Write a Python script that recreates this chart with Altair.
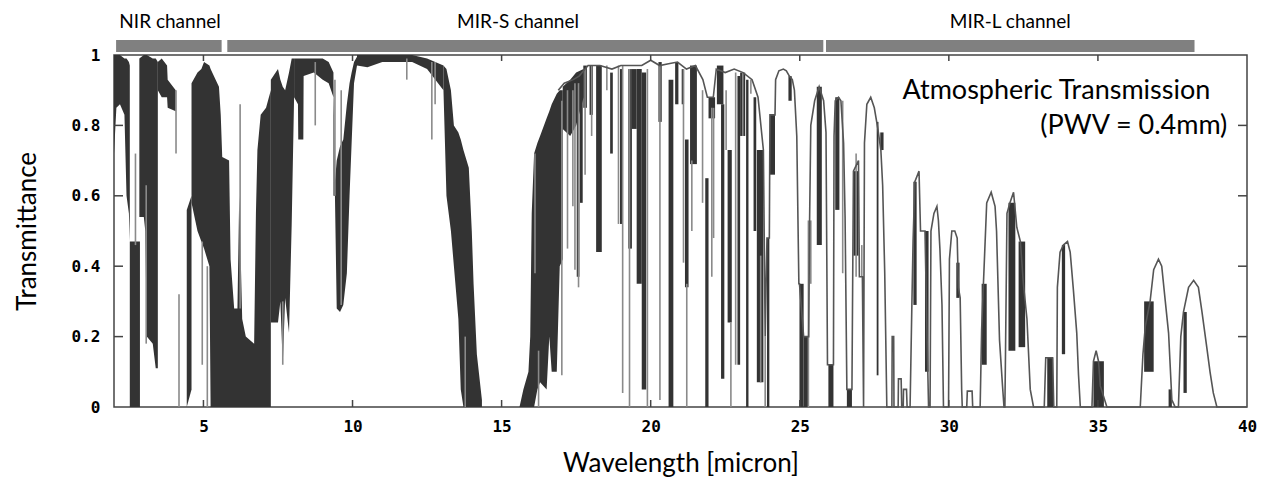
import altair as alt
import pandas as pd

# ---------------- data ----------------
# dense (dark) absorption regions: one list per segment
seg_x = [
    [2.0, 2.08, 2.2, 2.35, 2.42, 2.5, 2.53],
    [2.53, 2.87],
    [2.85, 3.0, 3.05, 3.1, 3.3, 3.4, 3.47],
    [3.47, 3.6, 3.78, 3.8, 4.07],
    [4.44, 4.6],
    [4.6, 4.8, 4.93, 5.02, 5.2, 5.24, 5.35, 5.52, 5.58, 5.63, 5.86, 5.91, 6.03, 6.14, 6.2, 6.3, 6.42, 6.7, 6.76, 6.81, 6.92, 7.1, 7.26],
    [7.26, 7.5, 7.58, 7.66, 7.74, 7.87, 7.96, 8.04],
    [8.04, 8.17, 8.18, 8.35, 8.36, 8.7, 9.0, 9.2, 9.36],
    [9.36, 9.41, 9.47, 9.58, 9.69, 9.81, 9.9, 9.97, 10.05, 10.15],
    [10.15, 10.5, 11.0, 12.0, 12.5, 13.05],
    [13.05, 13.15, 13.3, 13.4, 13.55, 13.63, 13.72, 13.9, 14.0, 14.06, 14.17, 14.34],
    [15.6, 15.73, 15.9, 15.96, 16.01, 16.09, 16.2, 16.29, 16.51, 16.6, 16.68, 16.85, 16.95, 17.05],
    [17.05, 17.3, 17.5, 17.75],
]
seg_lo = [
    [0.72, 0.85, 0.86, 0.83, 0.6, 0.55, 0.47],
    [0.0, 0.0],
    [0.54, 0.54, 0.5, 0.2, 0.18, 0.11, 0.11],
    [0.9, 0.88, 0.88, 0.85, 0.84],
    [0.0, 0.05],
    [0.58, 0.5, 0.47, 0.45, 0.4, 0.0, 0.0, 0.0, 0.0, 0.0, 0.0, 0.0, 0.0, 0.0, 0.0, 0.0, 0.0, 0.0, 0.0, 0.0, 0.0, 0.0, 0.0],
    [0.24, 0.24, 0.3, 0.12, 0.31, 0.21, 0.52, 0.88],
    [0.88, 0.86, 0.76, 0.76, 0.94, 0.95, 0.93, 0.92, 0.88],
    [0.6, 0.6, 0.28, 0.27, 0.29, 0.38, 0.6, 0.75, 0.92, 0.97],
    [0.97, 0.965, 0.98, 0.98, 0.96, 0.9],
    [0.9, 0.6, 0.5, 0.4, 0.25, 0.05, 0.0, 0.0, 0.0, 0.0, 0.0, 0.0],
    [0.0, 0.0, 0.0, 0.0, 0.0, 0.0, 0.05, 0.07, 0.05, 0.2, 0.1, 0.1, 0.4, 0.42],
    [0.79, 0.77, 0.8, 0.88],
]
seg_hi = [
    [1.0, 1.0, 1.0, 0.99, 0.99, 0.98, 0.97],
    [0.47, 0.47],
    [0.99, 1.0, 1.0, 1.0, 0.99, 0.99, 0.98],
    [0.98, 0.99, 0.97, 0.93, 0.9],
    [0.56, 0.6],
    [0.92, 0.95, 0.96, 0.98, 0.97, 0.96, 0.94, 0.91, 0.83, 0.71, 0.7, 0.42, 0.28, 0.28, 0.6, 0.25, 0.2, 0.18, 0.55, 0.73, 0.83, 0.85, 0.9],
    [0.93, 0.96, 0.93, 0.91, 0.9, 0.95, 0.99, 0.99],
    [0.99, 0.99, 0.99, 0.99, 0.99, 0.99, 0.99, 0.98, 0.95],
    [0.94, 0.64, 0.7, 0.74, 0.76, 0.86, 0.92, 0.95, 0.98, 0.995],
    [1.0, 1.0, 1.0, 1.0, 0.99, 0.97],
    [0.97, 0.96, 0.9, 0.8, 0.78, 0.76, 0.73, 0.68, 0.5, 0.35, 0.15, 0.02],
    [0.0, 0.05, 0.1, 0.2, 0.55, 0.72, 0.75, 0.77, 0.82, 0.84, 0.86, 0.89, 0.9, 0.9],
    [0.91, 0.93, 0.95, 0.96],
]

# narrow dark absorption bands: start, end, low, high
band_x0 = [17.52, 17.63, 17.74, 17.95, 18.17, 18.64, 18.97, 19.25, 19.37, 19.53, 19.7, 20.26, 20.6, 20.82, 21.04, 21.15, 21.32, 21.83, 21.94, 22.22, 22.36, 22.58, 22.91, 23.0, 23.2, 23.45, 23.56, 23.9, 24.0, 24.62, 24.99, 25.13, 25.57, 25.96, 26.19, 26.58, 26.8, 27.58, 27.7, 28.81, 29.2, 30.25, 31.1, 32.0, 32.34, 33.3, 33.79, 34.85, 36.55, 37.37, 37.87]
band_x1 = [17.61, 17.72, 17.86, 18.06, 18.36, 18.73, 19.06, 19.37, 19.53, 19.7, 19.85, 20.37, 20.76, 20.93, 21.12, 21.27, 21.55, 21.94, 22.16, 22.44, 22.47, 22.72, 23.0, 23.17, 23.28, 23.54, 23.78, 23.98, 24.17, 24.73, 25.13, 25.3, 25.74, 26.13, 26.33, 26.75, 26.97, 27.64, 27.81, 28.92, 29.32, 30.36, 31.27, 32.23, 32.56, 33.5, 33.9, 35.2, 36.87, 37.48, 37.98]
band_lo = [0.37, 0.58, 0.85, 0.83, 0.44, 0.72, 0.52, 0.45, 0.79, 0.35, 0.05, 0.81, 0.0, 0.86, 0.86, 0.34, 0.69, 0.0, 0.82, 0.86, 0.08, 0.24, 0.12, 0.77, 0.0, 0.5, 0.07, 0.0, 0.66, 0.87, 0.0, 0.0, 0.46, 0.0, 0.56, 0.0, 0.43, 0.09, 0.73, 0.29, 0.1, 0.31, 0.12, 0.16, 0.17, 0.0, 0.15, 0.0, 0.1, 0.0, 0.04]
band_hi = [0.92, 0.9, 0.97, 0.97, 0.97, 0.95, 0.96, 0.96, 0.96, 0.96, 0.95, 0.98, 0.93, 0.98, 0.96, 0.76, 0.97, 0.65, 0.88, 0.97, 0.86, 0.73, 0.94, 0.95, 0.93, 0.88, 0.73, 0.48, 0.83, 0.94, 0.35, 0.2, 0.91, 0.12, 0.88, 0.05, 0.67, 0.81, 0.78, 0.64, 0.5, 0.41, 0.35, 0.58, 0.47, 0.14, 0.46, 0.13, 0.3, 0.05, 0.27]

# single (grey) absorption lines: wavelength, low, high
line_x = [2.72, 3.08, 4.08, 4.18, 4.96, 5.13, 6.23, 7.66, 8.75, 9.41, 9.62, 11.82, 12.66, 12.77, 13.78, 16.12, 16.24, 17.02, 17.21, 17.39, 17.46, 17.58, 17.8, 18.02, 18.53, 18.92, 19.06, 19.29, 19.89, 20.31, 21.1, 21.21, 21.38, 21.74, 22.05, 22.11, 22.53, 22.69, 22.85, 23.09, 23.36, 23.69, 23.84, 25.29, 25.37, 26.44, 26.89, 27.08]
line_lo = [0.46, 0.18, 0.72, 0.0, 0.12, 0.0, 0.28, 0.12, 0.8, 0.6, 0.29, 0.93, 0.76, 0.86, 0.0, 0.38, 0.0, 0.09, 0.45, 0.57, 0.39, 0.34, 0.66, 0.77, 0.9, 0.52, 0.04, 0.0, 0.0, 0.02, 0.41, 0.0, 0.5, 0.58, 0.37, 0.48, 0.73, 0.0, 0.12, 0.77, 0.89, 0.07, 0.0, 0.0, 0.35, 0.38, 0.37, 0.37]
line_hi = [0.72, 0.63, 0.9, 0.32, 0.47, 0.4, 0.86, 0.3, 0.98, 0.93, 0.9, 0.99, 0.98, 0.98, 0.2, 0.72, 0.16, 0.87, 0.9, 0.9, 0.92, 0.92, 0.96, 0.97, 0.97, 0.97, 0.97, 0.96, 0.96, 0.97, 0.96, 0.35, 0.7, 0.9, 0.85, 0.85, 0.9, 0.24, 0.95, 0.95, 0.93, 0.43, 0.2, 0.53, 0.53, 0.87, 0.72, 0.46]

# outline of the transmission windows (long-wavelength side)
env_x = [16.9, 17.1, 17.4, 17.6, 17.9, 18.3, 18.7, 19.0, 19.4, 19.7, 20.0, 20.3, 20.6, 20.9, 21.2, 21.5, 21.75, 21.9, 22.1, 22.2, 22.5, 22.8, 23.1, 23.4, 23.6, 23.78, 23.84, 23.9, 23.98, 24.0, 24.17, 24.19, 24.3, 24.45, 24.55, 24.65, 24.75, 24.82, 24.9, 24.97, 24.99, 25.13, 25.3, 25.33, 25.37, 25.5, 25.65, 25.8, 25.88, 25.93, 26.13, 26.15, 26.19, 26.3, 26.38, 26.47, 26.52, 26.58, 26.75, 26.8, 26.97, 27.0, 27.1, 27.14, 27.17, 27.25, 27.38, 27.5, 27.62, 27.72, 27.78, 27.85, 27.92, 28.09, 28.1, 28.15, 28.16, 28.3, 28.31, 28.4, 28.42, 28.47, 28.48, 28.58, 28.6, 28.7, 28.76, 28.8, 28.86, 29.0, 29.05, 29.2, 29.26, 29.32, 29.37, 29.4, 29.5, 29.6, 29.65, 29.7, 29.77, 29.82, 29.99, 30.02, 30.1, 30.2, 30.28, 30.32, 30.38, 30.43, 30.45, 30.6, 30.62, 30.78, 30.8, 31.05, 31.1, 31.16, 31.27, 31.42, 31.55, 31.6, 31.7, 31.8, 31.85, 31.88, 31.9, 31.95, 32.05, 32.17, 32.28, 32.4, 32.5, 32.62, 32.73, 32.84, 33.2, 33.25, 33.48, 33.52, 33.62, 33.64, 33.73, 33.84, 33.98, 34.07, 34.18, 34.29, 34.35, 34.41, 34.8, 34.85, 34.94, 35.02, 35.08, 35.3, 36.42, 36.51, 36.59, 36.75, 36.87, 37.03, 37.14, 37.26, 37.37, 37.48, 37.59, 37.7, 37.78, 37.87, 38.04, 38.21, 38.37, 38.49, 38.65, 38.76, 38.87, 38.99, 40.0]
env_y = [0.9, 0.92, 0.93, 0.94, 0.97, 0.97, 0.96, 0.97, 0.97, 0.97, 0.985, 0.97, 0.975, 0.98, 0.96, 0.97, 0.93, 0.88, 0.88, 0.96, 0.95, 0.96, 0.95, 0.93, 0.88, 0.73, 0.2, 0.48, 0.48, 0.83, 0.83, 0.93, 0.955, 0.96, 0.955, 0.94, 0.93, 0.9, 0.77, 0.35, 0.35, 0.2, 0.2, 0.53, 0.8, 0.87, 0.91, 0.87, 0.78, 0.12, 0.12, 0.77, 0.87, 0.88, 0.87, 0.75, 0.54, 0.05, 0.05, 0.67, 0.7, 0.37, 0.37, 0.0, 0.75, 0.86, 0.88, 0.85, 0.79, 0.73, 0.63, 0.38, 0.0, 0.0, 0.2, 0.2, 0.0, 0.0, 0.08, 0.08, 0.0, 0.0, 0.05, 0.05, 0.0, 0.0, 0.29, 0.47, 0.64, 0.67, 0.5, 0.5, 0.24, 0.0, 0.0, 0.5, 0.55, 0.57, 0.53, 0.45, 0.29, 0.0, 0.0, 0.42, 0.5, 0.5, 0.48, 0.34, 0.31, 0.05, 0.0, 0.0, 0.045, 0.045, 0.0, 0.0, 0.22, 0.35, 0.58, 0.61, 0.57, 0.5, 0.19, 0.06, 0.0, 0.0, 0.15, 0.55, 0.58, 0.61, 0.51, 0.47, 0.35, 0.25, 0.05, 0.0, 0.0, 0.14, 0.14, 0.0, 0.0, 0.34, 0.44, 0.46, 0.47, 0.44, 0.33, 0.21, 0.09, 0.0, 0.0, 0.13, 0.16, 0.13, 0.06, 0.0, 0.0, 0.15, 0.23, 0.3, 0.39, 0.42, 0.4, 0.3, 0.21, 0.02, 0.0, 0.0, 0.2, 0.27, 0.34, 0.36, 0.34, 0.27, 0.17, 0.1, 0.04, 0.0, 0.0]

# channel bars above the plot
chan_name = ["NIR channel", "MIR-S channel", "MIR-L channel"]
chan_start = [2.07, 5.8, 25.88]
chan_end = [5.61, 25.79, 38.24]
chan_label_x = [3.88, 15.55, 32.06]

# annotation
note_text = ["Atmospheric Transmission", "(PWV = 0.4mm)"]
note_x = [38.77, 39.34]
note_y = [0.875, 0.775]

x_ticks = [5, 10, 15, 20, 25, 30, 35, 40]
y_ticks = [0, 0.2, 0.4, 0.6, 0.8, 1]

# ---------------- tables ----------------
rows = []
for s, (xs, los, his) in enumerate(zip(seg_x, seg_lo, seg_hi)):
    for xv, lv, hv in zip(xs, los, his):
        rows.append({"seg": s, "x": xv, "lo": lv, "hi": hv})
area_df = pd.DataFrame(rows)
band_df = pd.DataFrame({"x0": band_x0, "x1": band_x1, "lo": band_lo, "hi": band_hi})
line_df = pd.DataFrame({"x": line_x, "lo": line_lo, "hi": line_hi})
env_df = pd.DataFrame({"x": env_x, "y": env_y, "i": list(range(len(env_x)))})
chan_df = pd.DataFrame({"name": chan_name, "x0": chan_start, "x1": chan_end, "lx": chan_label_x})
note_df = pd.DataFrame({"t": note_text, "x": note_x, "y": note_y})
xt_df = pd.DataFrame({"t": x_ticks[:-1]})
yt_df = pd.DataFrame({"t": y_ticks[1:-1]})

W, H = 1133, 352
sx = alt.Scale(domain=[2, 40], nice=False, zero=False)
sy = alt.Scale(domain=[0, 1], nice=False, zero=False)

x_axis = alt.Axis(values=x_ticks, title="Wavelength [micron]", ticks=False, domain=False,
                  grid=False, labelFlush=False, labelFont="DejaVu Sans Mono",
                  labelFontWeight="bold", labelFontSize=16, labelColor="black",
                  labelPadding=11, titleFont="Lato", titleFontSize=26,
                  titleFontWeight="normal", titleColor="black", titlePadding=16)
y_axis = alt.Axis(values=y_ticks, format="~g", title="Transmittance", ticks=False,
                  domain=False, grid=False, labelFont="DejaVu Sans Mono",
                  labelFontWeight="bold", labelFontSize=16, labelColor="black",
                  labelPadding=14, titleFont="Lato", titleFontSize=26,
                  titleFontWeight="normal", titleColor="black", titlePadding=31)

DARK = "#333333"

area = alt.Chart(area_df).mark_area(color=DARK, opacity=1).encode(
    x=alt.X("x:Q", scale=sx, axis=x_axis),
    y=alt.Y("hi:Q", scale=sy, axis=y_axis, stack=None),
    y2="lo:Q",
    detail="seg:N",
)

bands = alt.Chart(band_df).mark_rect(color=DARK).encode(
    x=alt.X("x0:Q", scale=sx, axis=x_axis), x2="x1:Q",
    y=alt.Y("lo:Q", scale=sy, axis=y_axis), y2="hi:Q",
)

lines = alt.Chart(line_df).mark_rule(color="#8a8a8a", strokeWidth=1.6).encode(
    x=alt.X("x:Q", scale=sx, axis=x_axis),
    y=alt.Y("lo:Q", scale=sy, axis=y_axis), y2="hi:Q",
)

env = alt.Chart(env_df).mark_line(color="#555555", strokeWidth=1.6).encode(
    x=alt.X("x:Q", scale=sx, axis=x_axis),
    y=alt.Y("y:Q", scale=sy, axis=y_axis),
    order="i:Q",
)

tick_b = alt.Chart(xt_df).mark_rule(color="#444444", strokeWidth=1.5).encode(
    x=alt.X("t:Q", scale=sx, axis=x_axis), y=alt.value(H), y2=alt.value(H - 7))
tick_t = alt.Chart(xt_df).mark_rule(color="#444444", strokeWidth=1.5).encode(
    x=alt.X("t:Q", scale=sx, axis=x_axis), y=alt.value(0), y2=alt.value(6))
tick_l = alt.Chart(yt_df).mark_rule(color="#444444", strokeWidth=1.5).encode(
    y=alt.Y("t:Q", scale=sy, axis=y_axis), x=alt.value(0), x2=alt.value(9))
tick_r = alt.Chart(yt_df).mark_rule(color="#444444", strokeWidth=1.5).encode(
    y=alt.Y("t:Q", scale=sy, axis=y_axis), x=alt.value(W), x2=alt.value(W - 9))

chan_bar = alt.Chart(chan_df).mark_rect(color="#808080").encode(
    x=alt.X("x0:Q", scale=sx, axis=x_axis), x2="x1:Q",
    y=alt.value(-15), y2=alt.value(-3))
chan_txt = alt.Chart(chan_df).mark_text(font="Lato", fontSize=19, color="black",
                                        align="center", baseline="alphabetic").encode(
    x=alt.X("lx:Q", scale=sx, axis=x_axis), y=alt.value(-27), text="name:N")

note = alt.Chart(note_df).mark_text(font="Lato", fontSize=27, color="black",
                                    align="right", baseline="alphabetic").encode(
    x=alt.X("x:Q", scale=sx, axis=x_axis),
    y=alt.Y("y:Q", scale=sy, axis=y_axis), text="t:N")

chart = alt.layer(area, bands, lines, env, tick_b, tick_t, tick_l, tick_r,
                  chan_bar, chan_txt, note).properties(
    width=W, height=H,
    autosize=alt.AutoSizeParams(type="none"),
    padding={"left": 106, "top": 47, "right": 20, "bottom": 74},
    background="white",
).configure_view(stroke="#444444", strokeWidth=1.5)

chart.save("out.html", embed_options={"renderer": "svg", "actions": False})
